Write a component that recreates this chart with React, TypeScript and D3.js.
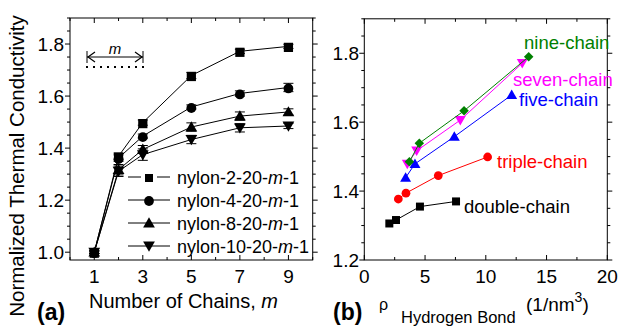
import { useRef, useEffect } from "react";
import * as d3 from "d3";

// panel (a): thermal conductivity vs number of chains
const chains = [1, 2, 3, 5, 7, 9];
const nylonNames = ["nylon-2-20-", "nylon-4-20-", "nylon-8-20-", "nylon-10-20-"];
const nylon2 = [1.0, 1.369, 1.498, 1.679, 1.772, 1.791];
const nylon4 = [1.0, 1.362, 1.446, 1.558, 1.61, 1.633];
const nylon8 = [1.0, 1.317, 1.395, 1.481, 1.523, 1.539];
const nylon10 = [1.0, 1.311, 1.375, 1.433, 1.478, 1.485];
const err2 = [0.005, 0.012, 0.01, 0.012, 0.008, 0.008];
const err4 = [0.005, 0.012, 0.008, 0.008, 0.01, 0.016];
const err8 = [0.005, 0.02, 0.015, 0.016, 0.016, 0.012];
const err10 = [0.005, 0.02, 0.022, 0.016, 0.016, 0.01];
const aXTicks = [1, 3, 5, 7, 9];
const aYTicks = [1.0, 1.2, 1.4, 1.6, 1.8];

// panel (b): conductivity vs hydrogen bond density
const bNames = ["double-chain", "triple-chain", "five-chain", "seven-chain", "nine-chain"];
const doubleRho = [2.06, 2.61, 4.58, 7.55];
const doubleK = [1.306, 1.316, 1.355, 1.37];
const tripleRho = [2.8, 3.43, 6.09, 10.15];
const tripleK = [1.377, 1.394, 1.445, 1.499];
const fiveRho = [3.4, 4.17, 7.41, 12.13];
const fiveK = [1.439, 1.479, 1.558, 1.679];
const sevenRho = [3.54, 4.31, 7.9, 13.0];
const sevenK = [1.479, 1.517, 1.606, 1.771];
const nineRho = [3.71, 4.53, 8.21, 13.53];
const nineK = [1.485, 1.539, 1.633, 1.79];
const bXTicks = [0, 5, 10, 15, 20];
const bYTicks = [1.2, 1.4, 1.6, 1.8];

const FONT = "'Liberation Sans', Arial, sans-serif";

export default function App() {
  const svgRef = useRef<SVGSVGElement>(null);

  useEffect(() => {
    const svg = d3.select(svgRef.current);
    svg.selectAll("*").remove();
    svg.attr("font-family", FONT);

    // ---------- panel (a)
    const xa = d3.scaleLinear().domain([0, 10]).range([70, 312.7]);
    const ya = d3.scaleLinear().domain([0.97, 1.9]).range([260, 18]);
    const ga = svg.append("g");

    ga.append("rect").attr("x", 70).attr("y", 18).attr("width", 242.7).attr("height", 242)
      .attr("fill", "none").attr("stroke", "#000").attr("stroke-width", 1);

    // x ticks (inward bottom, inward top)
    d3.range(0, 11).forEach(v => {
      const len = v % 2 === 1 ? 5 : 3;
      ga.append("line").attr("x1", xa(v)).attr("x2", xa(v)).attr("y1", 260).attr("y2", 260 - len).attr("stroke", "#000");
      ga.append("line").attr("x1", xa(v)).attr("x2", xa(v)).attr("y1", 18).attr("y2", 18 + len).attr("stroke", "#000");
    });
    // y ticks (outward left, outward right)
    d3.range(0, 19).map(i => 1.0 + i * 0.05).forEach((v, i) => {
      const len = i % 4 === 0 ? 5 : 3;
      ga.append("line").attr("y1", ya(v)).attr("y2", ya(v)).attr("x1", 70).attr("x2", 70 - len).attr("stroke", "#000");
      ga.append("line").attr("y1", ya(v)).attr("y2", ya(v)).attr("x1", 312.7).attr("x2", 312.7 + len).attr("stroke", "#000");
    });
    ga.selectAll(".xl").data(aXTicks).enter().append("text")
      .attr("x", d => xa(d)).attr("y", 283).attr("text-anchor", "middle").attr("font-size", 19).text(d => d);
    ga.selectAll(".yl").data(aYTicks).enter().append("text")
      .attr("x", 64).attr("y", d => ya(d) + 7).attr("text-anchor", "end").attr("font-size", 19).text(d => d.toFixed(1));

    const aSeries = [
      { vals: nylon2, errs: err2, sym: d3.symbolSquare, size: 85, rot: 0 },
      { vals: nylon4, errs: err4, sym: d3.symbolCircle, size: 75, rot: 0 },
      { vals: nylon8, errs: err8, sym: d3.symbolTriangle, size: 60, rot: 0 },
      { vals: nylon10, errs: err10, sym: d3.symbolTriangle, size: 60, rot: 180 },
    ];
    const lineA = d3.line<number>().x((_, i) => xa(chains[i])).y(d => ya(d));
    aSeries.forEach(s => {
      ga.append("path").attr("d", lineA(s.vals)).attr("fill", "none").attr("stroke", "#000").attr("stroke-width", 1);
    });
    aSeries.forEach(s => {
      s.vals.forEach((v, i) => {
        const x = xa(chains[i]);
        const e = s.errs[i];
        ga.append("line").attr("x1", x).attr("x2", x).attr("y1", ya(v - e)).attr("y2", ya(v + e)).attr("stroke", "#000");
        [v - e, v + e].forEach(w => ga.append("line").attr("x1", x - 5).attr("x2", x + 5).attr("y1", ya(w)).attr("y2", ya(w)).attr("stroke", "#000"));
        ga.append("path").attr("d", d3.symbol().type(s.sym).size(s.size)())
          .attr("transform", `translate(${x},${ya(v) + (s.rot ? -1 : 1)}) rotate(${s.rot})`).attr("fill", "#000");
      });
    });

    // legend
    const legY = [177, 200, 223, 246];
    aSeries.forEach((s, i) => {
      const y = legY[i];
      if (i === 0) {
        ga.append("line").attr("x1", 128).attr("x2", 141).attr("y1", y).attr("y2", y).attr("stroke", "#000");
        ga.append("line").attr("x1", 157).attr("x2", 170).attr("y1", y).attr("y2", y).attr("stroke", "#000");
      } else {
        ga.append("line").attr("x1", 128).attr("x2", 170).attr("y1", y).attr("y2", y).attr("stroke", "#000");
      }
      ga.append("path").attr("d", d3.symbol().type(s.sym).size(i === 0 ? 64 : s.size)())
        .attr("transform", `translate(149,${y + (s.rot ? -1 : 1)}) rotate(${s.rot})`).attr("fill", "#000");
      const t = ga.append("text").attr("x", 177).attr("y", y + 6.5).attr("font-size", 18);
      t.append("tspan").text(nylonNames[i]);
      t.append("tspan").attr("font-style", "italic").text("m");
      t.append("tspan").text("-1");
    });

    // m arrow annotation
    ga.append("line").attr("x1", 87).attr("x2", 143).attr("y1", 57).attr("y2", 57).attr("stroke", "#000");
    [87, 143].forEach(x => ga.append("line").attr("x1", x).attr("x2", x).attr("y1", 51).attr("y2", 63).attr("stroke", "#000"));
    ga.append("path").attr("d", "M95,52 L88,57 L95,62").attr("fill", "none").attr("stroke", "#000").attr("stroke-width", 1.2);
    ga.append("path").attr("d", "M135,52 L142,57 L135,62").attr("fill", "none").attr("stroke", "#000").attr("stroke-width", 1.2);
    ga.append("text").attr("x", 115).attr("y", 54).attr("text-anchor", "middle").attr("font-size", 15).attr("font-style", "italic").text("m");
    ga.append("line").attr("x1", 86).attr("x2", 144).attr("y1", 67).attr("y2", 67).attr("stroke", "#000")
      .attr("stroke-width", 2).attr("stroke-dasharray", "2,5");

    // axis titles
    const xt = ga.append("text").attr("x", 89).attr("y", 308).attr("font-size", 20);
    xt.append("tspan").text("Number of Chains, ");
    xt.append("tspan").attr("font-style", "italic").text("m");
    ga.append("text").attr("transform", "translate(24,166) rotate(-90)").attr("text-anchor", "middle")
      .attr("font-size", 20.5).text("Normalized Thermal Conductivity");
    ga.append("text").attr("x", 37).attr("y", 320).attr("font-size", 23).attr("font-weight", "bold").text("(a)");

    // ---------- panel (b)
    const xb = d3.scaleLinear().domain([0, 20]).range([364.3, 607.3]);
    const yb = d3.scaleLinear().domain([1.2, 1.9]).range([260, 18.8]);
    const gb = svg.append("g");
    gb.append("rect").attr("x", 364.3).attr("y", 18.8).attr("width", 243).attr("height", 241.2)
      .attr("fill", "none").attr("stroke", "#000");
    d3.range(0, 9).map(i => i * 2.5).forEach((v, i) => {
      const len = i % 2 === 0 ? 5 : 3;
      gb.append("line").attr("x1", xb(v)).attr("x2", xb(v)).attr("y1", 260).attr("y2", 260 - len).attr("stroke", "#000");
      gb.append("line").attr("x1", xb(v)).attr("x2", xb(v)).attr("y1", 18.8).attr("y2", 18.8 + len).attr("stroke", "#000");
    });
    d3.range(0, 15).map(i => 1.2 + i * 0.05).forEach((v, i) => {
      const len = i % 4 === 0 ? 5 : 3;
      gb.append("line").attr("y1", yb(v)).attr("y2", yb(v)).attr("x1", 364.3).attr("x2", 364.3 - len).attr("stroke", "#000");
      gb.append("line").attr("y1", yb(v)).attr("y2", yb(v)).attr("x1", 607.3).attr("x2", 607.3 + len).attr("stroke", "#000");
    });
    gb.selectAll(".xl").data(bXTicks).enter().append("text")
      .attr("x", d => xb(d)).attr("y", 283).attr("text-anchor", "middle").attr("font-size", 19).text(d => d);
    gb.selectAll(".yl").data(bYTicks).enter().append("text")
      .attr("x", 359).attr("y", d => yb(d) + 7).attr("text-anchor", "end").attr("font-size", 19).text(d => d.toFixed(1));

    const bSeries = [
      { rho: doubleRho, k: doubleK, color: "#000000", sym: d3.symbolSquare, size: 64, rot: 0, lx: 464, ly: 213 },
      { rho: tripleRho, k: tripleK, color: "#ff0000", sym: d3.symbolCircle, size: 60, rot: 0, lx: 497, ly: 168 },
      { rho: fiveRho, k: fiveK, color: "#0000ff", sym: d3.symbolTriangle, size: 52, rot: 0, lx: 519, ly: 106 },
      { rho: sevenRho, k: sevenK, color: "#ff00ff", sym: d3.symbolTriangle, size: 52, rot: 180, lx: 513, ly: 86 },
      { rho: nineRho, k: nineK, color: "#008000", sym: d3.symbolSquare, size: 45, rot: 45, lx: 524, ly: 49 },
    ];
    bSeries.forEach((s, si) => {
      const line = d3.line<number>().x((_, i) => xb(s.rho[i])).y(d => yb(d));
      gb.append("path").attr("d", line(s.k)).attr("fill", "none").attr("stroke", s.color).attr("stroke-width", 1);
      s.k.forEach((v, i) => {
        const dy = s.rot === 180 ? -1 : s.sym === d3.symbolTriangle ? 1 : 0;
        gb.append("path").attr("d", d3.symbol().type(s.sym).size(s.size)())
          .attr("transform", `translate(${xb(s.rho[i])},${yb(v) + dy}) rotate(${s.rot})`).attr("fill", s.color);
      });
      gb.append("text").attr("x", s.lx).attr("y", s.ly).attr("font-size", 18.5).attr("fill", s.color).text(bNames[si]);
    });

    gb.append("text").attr("x", 333).attr("y", 320).attr("font-size", 23).attr("font-weight", "bold").text("(b)");
    gb.append("text").attr("x", 379).attr("y", 310).attr("font-size", 16).text("\u03c1");
    gb.append("text").attr("x", 401).attr("y", 323).attr("font-size", 16.5).text("Hydrogen Bond");
    const unit = gb.append("text").attr("x", 526).attr("y", 311).attr("font-size", 19);
    unit.append("tspan").text("(1/nm");
    unit.append("tspan").attr("dy", -9).attr("font-size", 14).text("3");
    unit.append("tspan").attr("dy", 9).text(")");
  }, []);

  return (
    <div style={{ position: "absolute", left: 0, top: 0, width: 620, height: 329, background: "#fff" }}>
      <svg ref={svgRef} width={620} height={329} />
    </div>
  );
}
